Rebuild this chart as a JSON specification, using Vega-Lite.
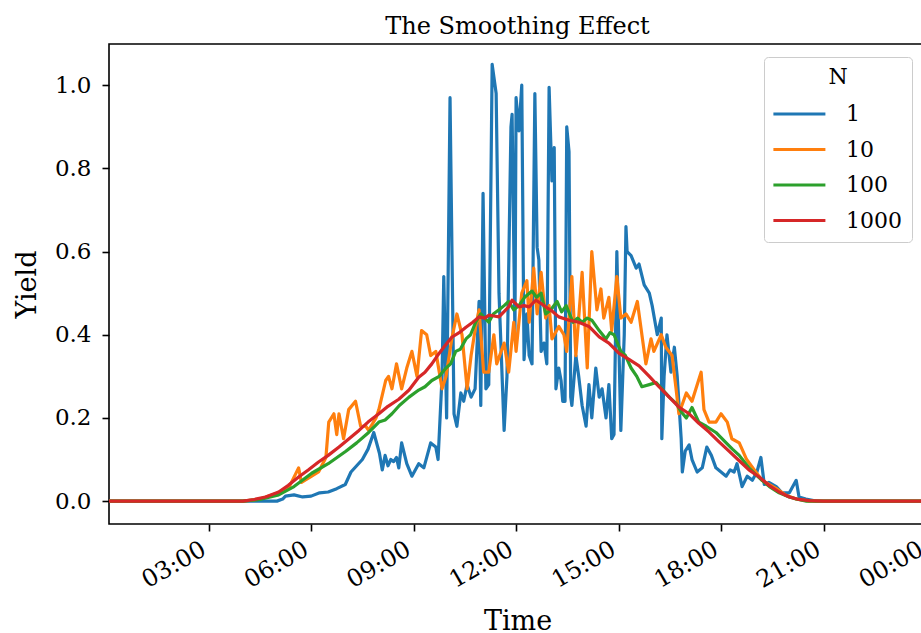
{
  "$schema": "https://vega.github.io/schema/vega-lite/v6.json",
  "width": 817,
  "height": 480,
  "autosize": {"type": "none"},
  "padding": {"left": 109, "top": 44, "right": 0, "bottom": 109},
  "background": "white",
  "title": {"text": "The Smoothing Effect", "font": "DejaVu Serif", "fontSize": 24, "fontWeight": "normal", "color": "black", "anchor": "middle", "baseline": "bottom", "offset": 8, "dy": 27},
  "data": {
    "format": {"parse": {"t": "date:'%H:%M'"}},
    "values": [
      {"t":"00:05","N":"1","v":0},{"t":"05:00","N":"1","v":0},{"t":"05:10","N":"1","v":0.005},{"t":"05:15","N":"1","v":0.012},{"t":"05:30","N":"1","v":0.015},{"t":"05:45","N":"1","v":0.01},{"t":"06:00","N":"1","v":0.012},{"t":"06:15","N":"1","v":0.02},{"t":"06:30","N":"1","v":0.022},{"t":"06:45","N":"1","v":0.03},{"t":"07:00","N":"1","v":0.04},{"t":"07:10","N":"1","v":0.07},{"t":"07:20","N":"1","v":0.085},{"t":"07:30","N":"1","v":0.1},{"t":"07:40","N":"1","v":0.125},{"t":"07:50","N":"1","v":0.165},{"t":"08:00","N":"1","v":0.115},{"t":"08:05","N":"1","v":0.075},{"t":"08:10","N":"1","v":0.11},{"t":"08:15","N":"1","v":0.085},{"t":"08:20","N":"1","v":0.1},{"t":"08:25","N":"1","v":0.095},{"t":"08:30","N":"1","v":0.105},
      {"t":"08:34","N":"1","v":0.08},{"t":"08:39","N":"1","v":0.14},{"t":"08:48","N":"1","v":0.09},{"t":"08:57","N":"1","v":0.06},{"t":"09:09","N":"1","v":0.09},{"t":"09:18","N":"1","v":0.08},{"t":"09:30","N":"1","v":0.14},{"t":"09:39","N":"1","v":0.13},{"t":"09:43","N":"1","v":0.1},{"t":"09:50","N":"1","v":0.3},{"t":"09:53","N":"1","v":0.54},{"t":"09:58","N":"1","v":0.2},{"t":"10:04","N":"1","v":0.97},{"t":"10:11","N":"1","v":0.21},{"t":"10:16","N":"1","v":0.18},{"t":"10:23","N":"1","v":0.26},{"t":"10:28","N":"1","v":0.24},{"t":"10:34","N":"1","v":0.28},{"t":"10:41","N":"1","v":0.25},{"t":"10:48","N":"1","v":0.27},{"t":"10:55","N":"1","v":0.48},{"t":"10:58","N":"1","v":0.23},{"t":"11:02","N":"1","v":0.74},{"t":"11:07","N":"1","v":0.27},{"t":"11:12","N":"1","v":0.28},{"t":"11:18","N":"1","v":1.05},{"t":"11:25","N":"1","v":0.98},{"t":"11:30","N":"1","v":0.5},{"t":"11:39","N":"1","v":0.17},{"t":"11:44","N":"1","v":0.3},{"t":"11:51","N":"1","v":0.9},{"t":"11:53","N":"1","v":0.93},{"t":"11:58","N":"1","v":0.4},{"t":"12:00","N":"1","v":0.97},{"t":"12:05","N":"1","v":0.89},{"t":"12:10","N":"1","v":1.0},{"t":"12:14","N":"1","v":0.34},{"t":"12:19","N":"1","v":0.45},{"t":"12:23","N":"1","v":0.35},{"t":"12:28","N":"1","v":0.33},{"t":"12:33","N":"1","v":0.98},{"t":"12:37","N":"1","v":0.61},{"t":"12:40","N":"1","v":0.58},{"t":"12:44","N":"1","v":0.36},{"t":"12:49","N":"1","v":0.38},{"t":"12:54","N":"1","v":0.33},{"t":"12:58","N":"1","v":0.995},{"t":"13:03","N":"1","v":0.77},{"t":"13:07","N":"1","v":0.85},{"t":"13:10","N":"1","v":0.27},{"t":"13:15","N":"1","v":0.32},{"t":"13:19","N":"1","v":0.29},{"t":"13:22","N":"1","v":0.24},{"t":"13:26","N":"1","v":0.24},{"t":"13:29","N":"1","v":0.9},{"t":"13:33","N":"1","v":0.84},{"t":"13:36","N":"1","v":0.25},{"t":"13:38","N":"1","v":0.23},{"t":"13:45","N":"1","v":0.35},{"t":"13:50","N":"1","v":0.3},{"t":"13:56","N":"1","v":0.23},{"t":"14:03","N":"1","v":0.18},{"t":"14:08","N":"1","v":0.28},{"t":"14:13","N":"1","v":0.2},{"t":"14:20","N":"1","v":0.32},{"t":"14:26","N":"1","v":0.25},{"t":"14:31","N":"1","v":0.27},{"t":"14:38","N":"1","v":0.2},{"t":"14:43","N":"1","v":0.28},{"t":"14:48","N":"1","v":0.15},{"t":"14:52","N":"1","v":0.16},{"t":"14:57","N":"1","v":0.6},{"t":"15:01","N":"1","v":0.35},{"t":"15:04","N":"1","v":0.17},{"t":"15:10","N":"1","v":0.4},{"t":"15:13","N":"1","v":0.66},{"t":"15:15","N":"1","v":0.6},{"t":"15:22","N":"1","v":0.59},{"t":"15:31","N":"1","v":0.56},{"t":"15:36","N":"1","v":0.57},{"t":"15:45","N":"1","v":0.52},{"t":"15:54","N":"1","v":0.5},{"t":"15:59","N":"1","v":0.47},{"t":"16:08","N":"1","v":0.4},{"t":"16:15","N":"1","v":0.44},{"t":"16:16","N":"1","v":0.15},{"t":"16:20","N":"1","v":0.3},{"t":"16:25","N":"1","v":0.4},{"t":"16:32","N":"1","v":0.31},{"t":"16:38","N":"1","v":0.37},{"t":"16:43","N":"1","v":0.3},{"t":"16:50","N":"1","v":0.15},{"t":"16:52","N":"1","v":0.07},{"t":"16:57","N":"1","v":0.12},{"t":"17:04","N":"1","v":0.135},{"t":"17:09","N":"1","v":0.1},{"t":"17:18","N":"1","v":0.07},{"t":"17:27","N":"1","v":0.08},{"t":"17:35","N":"1","v":0.13},{"t":"17:43","N":"1","v":0.11},{"t":"17:51","N":"1","v":0.08},{"t":"18:00","N":"1","v":0.07},{"t":"18:09","N":"1","v":0.06},{"t":"18:16","N":"1","v":0.075},{"t":"18:23","N":"1","v":0.07},{"t":"18:28","N":"1","v":0.09},{"t":"18:37","N":"1","v":0.035},{"t":"18:46","N":"1","v":0.06},{"t":"18:55","N":"1","v":0.05},{"t":"19:03","N":"1","v":0.07},{"t":"19:10","N":"1","v":0.105},{"t":"19:16","N":"1","v":0.04},{"t":"19:24","N":"1","v":0.045},{"t":"19:37","N":"1","v":0.035},{"t":"19:47","N":"1","v":0.02},{"t":"20:00","N":"1","v":0.02},{"t":"20:12","N":"1","v":0.05},{"t":"20:17","N":"1","v":0.01},{"t":"20:29","N":"1","v":0.005},{"t":"20:47","N":"1","v":0},{"t":"23:55","N":"1","v":0},

      {"t":"00:05","N":"10","v":0},{"t":"04:00","N":"10","v":0},{"t":"04:30","N":"10","v":0.005},{"t":"05:03","N":"10","v":0.02},{"t":"05:20","N":"10","v":0.03},{"t":"05:38","N":"10","v":0.08},{"t":"05:43","N":"10","v":0.045},{"t":"06:01","N":"10","v":0.06},{"t":"06:13","N":"10","v":0.07},{"t":"06:26","N":"10","v":0.105},{"t":"06:31","N":"10","v":0.19},{"t":"06:40","N":"10","v":0.21},{"t":"06:45","N":"10","v":0.16},{"t":"06:49","N":"10","v":0.21},{"t":"06:57","N":"10","v":0.15},{"t":"07:06","N":"10","v":0.22},{"t":"07:18","N":"10","v":0.24},{"t":"07:27","N":"10","v":0.18},{"t":"07:36","N":"10","v":0.18},{"t":"07:41","N":"10","v":0.17},{"t":"07:54","N":"10","v":0.2},{"t":"07:59","N":"10","v":0.22},{"t":"08:11","N":"10","v":0.29},{"t":"08:16","N":"10","v":0.3},{"t":"08:22","N":"10","v":0.27},{"t":"08:30","N":"10","v":0.33},{"t":"08:39","N":"10","v":0.27},{"t":"08:48","N":"10","v":0.32},{"t":"08:57","N":"10","v":0.36},{"t":"09:06","N":"10","v":0.3},{"t":"09:14","N":"10","v":0.41},{"t":"09:23","N":"10","v":0.4},{"t":"09:30","N":"10","v":0.35},{"t":"09:39","N":"10","v":0.36},{"t":"09:50","N":"10","v":0.27},{"t":"09:57","N":"10","v":0.3},{"t":"10:07","N":"10","v":0.39},{"t":"10:16","N":"10","v":0.45},{"t":"10:25","N":"10","v":0.4},{"t":"10:34","N":"10","v":0.27},{"t":"10:41","N":"10","v":0.35},{"t":"10:49","N":"10","v":0.42},{"t":"10:55","N":"10","v":0.46},{"t":"11:03","N":"10","v":0.31},{"t":"11:12","N":"10","v":0.31},{"t":"11:21","N":"10","v":0.4},{"t":"11:26","N":"10","v":0.33},{"t":"11:39","N":"10","v":0.38},{"t":"11:47","N":"10","v":0.31},{"t":"11:56","N":"10","v":0.43},{"t":"12:00","N":"10","v":0.36},{"t":"12:10","N":"10","v":0.5},{"t":"12:19","N":"10","v":0.53},{"t":"12:23","N":"10","v":0.43},{"t":"12:31","N":"10","v":0.56},{"t":"12:37","N":"10","v":0.45},{"t":"12:44","N":"10","v":0.55},{"t":"12:52","N":"10","v":0.44},{"t":"12:58","N":"10","v":0.47},{"t":"13:03","N":"10","v":0.39},{"t":"13:15","N":"10","v":0.42},{"t":"13:24","N":"10","v":0.4},{"t":"13:29","N":"10","v":0.36},{"t":"13:38","N":"10","v":0.54},{"t":"13:45","N":"10","v":0.35},{"t":"13:56","N":"10","v":0.55},{"t":"14:05","N":"10","v":0.32},{"t":"14:13","N":"10","v":0.6},{"t":"14:22","N":"10","v":0.46},{"t":"14:29","N":"10","v":0.51},{"t":"14:34","N":"10","v":0.44},{"t":"14:43","N":"10","v":0.49},{"t":"14:48","N":"10","v":0.41},{"t":"14:57","N":"10","v":0.54},{"t":"15:04","N":"10","v":0.44},{"t":"15:13","N":"10","v":0.45},{"t":"15:22","N":"10","v":0.43},{"t":"15:33","N":"10","v":0.48},{"t":"15:48","N":"10","v":0.33},{"t":"15:57","N":"10","v":0.39},{"t":"16:02","N":"10","v":0.36},{"t":"16:15","N":"10","v":0.4},{"t":"16:23","N":"10","v":0.37},{"t":"16:34","N":"10","v":0.35},{"t":"16:41","N":"10","v":0.27},{"t":"16:46","N":"10","v":0.21},{"t":"16:59","N":"10","v":0.26},{"t":"17:09","N":"10","v":0.24},{"t":"17:25","N":"10","v":0.31},{"t":"17:30","N":"10","v":0.22},{"t":"17:39","N":"10","v":0.19},{"t":"17:51","N":"10","v":0.19},{"t":"18:00","N":"10","v":0.21},{"t":"18:11","N":"10","v":0.19},{"t":"18:19","N":"10","v":0.15},{"t":"18:32","N":"10","v":0.14},{"t":"18:45","N":"10","v":0.1},{"t":"19:01","N":"10","v":0.07},{"t":"19:12","N":"10","v":0.05},{"t":"19:37","N":"10","v":0.03},{"t":"19:53","N":"10","v":0.015},{"t":"20:12","N":"10","v":0.005},{"t":"20:35","N":"10","v":0},{"t":"23:55","N":"10","v":0},

      {"t":"00:05","N":"100","v":0},{"t":"04:00","N":"100","v":0},{"t":"04:30","N":"100","v":0.004},{"t":"05:03","N":"100","v":0.015},{"t":"05:30","N":"100","v":0.035},{"t":"06:01","N":"100","v":0.067},{"t":"06:30","N":"100","v":0.09},{"t":"07:01","N":"100","v":0.12},{"t":"07:20","N":"100","v":0.14},{"t":"07:41","N":"100","v":0.165},{"t":"07:59","N":"100","v":0.19},{"t":"08:10","N":"100","v":0.195},{"t":"08:22","N":"100","v":0.21},{"t":"08:35","N":"100","v":0.23},{"t":"08:52","N":"100","v":0.25},{"t":"09:09","N":"100","v":0.267},{"t":"09:20","N":"100","v":0.275},{"t":"09:32","N":"100","v":0.29},{"t":"09:45","N":"100","v":0.3},{"t":"09:57","N":"100","v":0.32},{"t":"10:05","N":"100","v":0.33},{"t":"10:14","N":"100","v":0.36},{"t":"10:22","N":"100","v":0.365},{"t":"10:32","N":"100","v":0.39},{"t":"10:40","N":"100","v":0.4},{"t":"10:49","N":"100","v":0.43},{"t":"10:58","N":"100","v":0.45},{"t":"11:05","N":"100","v":0.44},{"t":"11:12","N":"100","v":0.43},{"t":"11:20","N":"100","v":0.45},{"t":"11:30","N":"100","v":0.46},{"t":"11:39","N":"100","v":0.47},{"t":"11:47","N":"100","v":0.48},{"t":"11:56","N":"100","v":0.46},{"t":"12:05","N":"100","v":0.47},{"t":"12:15","N":"100","v":0.49},{"t":"12:28","N":"100","v":0.505},{"t":"12:36","N":"100","v":0.49},{"t":"12:44","N":"100","v":0.5},{"t":"12:52","N":"100","v":0.45},{"t":"13:01","N":"100","v":0.46},{"t":"13:12","N":"100","v":0.48},{"t":"13:20","N":"100","v":0.455},{"t":"13:28","N":"100","v":0.47},{"t":"13:40","N":"100","v":0.43},{"t":"13:48","N":"100","v":0.44},{"t":"13:56","N":"100","v":0.43},{"t":"14:05","N":"100","v":0.44},{"t":"14:13","N":"100","v":0.435},{"t":"14:26","N":"100","v":0.41},{"t":"14:38","N":"100","v":0.39},{"t":"14:45","N":"100","v":0.405},{"t":"14:52","N":"100","v":0.4},{"t":"15:04","N":"100","v":0.36},{"t":"15:12","N":"100","v":0.35},{"t":"15:22","N":"100","v":0.32},{"t":"15:32","N":"100","v":0.3},{"t":"15:41","N":"100","v":0.275},{"t":"15:54","N":"100","v":0.28},{"t":"16:06","N":"100","v":0.285},{"t":"16:16","N":"100","v":0.27},{"t":"16:29","N":"100","v":0.25},{"t":"16:41","N":"100","v":0.235},{"t":"16:50","N":"100","v":0.215},{"t":"16:59","N":"100","v":0.2},{"t":"17:09","N":"100","v":0.225},{"t":"17:21","N":"100","v":0.19},{"t":"17:34","N":"100","v":0.18},{"t":"17:51","N":"100","v":0.165},{"t":"18:09","N":"100","v":0.14},{"t":"18:20","N":"100","v":0.125},{"t":"18:32","N":"100","v":0.11},{"t":"18:49","N":"100","v":0.08},{"t":"19:00","N":"100","v":0.065},{"t":"19:12","N":"100","v":0.05},{"t":"19:25","N":"100","v":0.035},{"t":"19:42","N":"100","v":0.02},{"t":"20:00","N":"100","v":0.01},{"t":"20:12","N":"100","v":0.005},{"t":"20:30","N":"100","v":0},{"t":"23:55","N":"100","v":0},

      {"t":"00:05","N":"1000","v":0},{"t":"04:00","N":"1000","v":0},{"t":"04:20","N":"1000","v":0.004},{"t":"04:40","N":"1000","v":0.01},{"t":"05:03","N":"1000","v":0.022},{"t":"05:20","N":"1000","v":0.038},{"t":"05:38","N":"1000","v":0.058},{"t":"05:55","N":"1000","v":0.075},{"t":"06:13","N":"1000","v":0.094},{"t":"06:30","N":"1000","v":0.11},{"t":"06:49","N":"1000","v":0.13},{"t":"07:05","N":"1000","v":0.148},{"t":"07:24","N":"1000","v":0.17},{"t":"07:40","N":"1000","v":0.19},{"t":"07:59","N":"1000","v":0.21},{"t":"08:15","N":"1000","v":0.228},{"t":"08:34","N":"1000","v":0.245},{"t":"08:52","N":"1000","v":0.267},{"t":"09:09","N":"1000","v":0.298},{"t":"09:20","N":"1000","v":0.31},{"t":"09:32","N":"1000","v":0.33},{"t":"09:42","N":"1000","v":0.35},{"t":"09:53","N":"1000","v":0.37},{"t":"10:07","N":"1000","v":0.394},{"t":"10:20","N":"1000","v":0.405},{"t":"10:32","N":"1000","v":0.418},{"t":"10:44","N":"1000","v":0.43},{"t":"10:55","N":"1000","v":0.443},{"t":"11:05","N":"1000","v":0.44},{"t":"11:12","N":"1000","v":0.447},{"t":"11:21","N":"1000","v":0.445},{"t":"11:30","N":"1000","v":0.443},{"t":"11:47","N":"1000","v":0.467},{"t":"11:53","N":"1000","v":0.483},{"t":"12:05","N":"1000","v":0.467},{"t":"12:14","N":"1000","v":0.47},{"t":"12:23","N":"1000","v":0.467},{"t":"12:35","N":"1000","v":0.483},{"t":"12:44","N":"1000","v":0.475},{"t":"12:52","N":"1000","v":0.467},{"t":"13:03","N":"1000","v":0.457},{"t":"13:15","N":"1000","v":0.443},{"t":"13:33","N":"1000","v":0.435},{"t":"13:50","N":"1000","v":0.43},{"t":"14:08","N":"1000","v":0.42},{"t":"14:26","N":"1000","v":0.395},{"t":"14:43","N":"1000","v":0.38},{"t":"15:01","N":"1000","v":0.355},{"t":"15:19","N":"1000","v":0.34},{"t":"15:36","N":"1000","v":0.325},{"t":"15:54","N":"1000","v":0.3},{"t":"16:11","N":"1000","v":0.275},{"t":"16:29","N":"1000","v":0.25},{"t":"16:46","N":"1000","v":0.226},{"t":"17:04","N":"1000","v":0.21},{"t":"17:21","N":"1000","v":0.187},{"t":"17:39","N":"1000","v":0.166},{"t":"17:57","N":"1000","v":0.142},{"t":"18:14","N":"1000","v":0.12},{"t":"18:32","N":"1000","v":0.097},{"t":"18:49","N":"1000","v":0.075},{"t":"19:07","N":"1000","v":0.058},{"t":"19:24","N":"1000","v":0.038},{"t":"19:42","N":"1000","v":0.022},{"t":"20:00","N":"1000","v":0.01},{"t":"20:17","N":"1000","v":0.004},{"t":"20:35","N":"1000","v":0.001},{"t":"21:00","N":"1000","v":0},{"t":"23:55","N":"1000","v":0}
    ]
  },
  "mark": {"type": "line", "strokeWidth": 3.2, "strokeJoin": "round", "clip": true},
  "encoding": {
    "x": {
      "field": "t", "type": "temporal",
      "scale": {"domain": [{"year": 1900, "month": 1, "date": 1, "hours": 0, "minutes": 5}, {"year": 1900, "month": 1, "date": 2, "hours": 0}], "nice": false},
      "axis": {
        "title": "Time",
        "values": [{"year": 1900, "month": 1, "date": 1, "hours": 3}, {"year": 1900, "month": 1, "date": 1, "hours": 6}, {"year": 1900, "month": 1, "date": 1, "hours": 9}, {"year": 1900, "month": 1, "date": 1, "hours": 12}, {"year": 1900, "month": 1, "date": 1, "hours": 15}, {"year": 1900, "month": 1, "date": 1, "hours": 18}, {"year": 1900, "month": 1, "date": 1, "hours": 21}, {"year": 1900, "month": 1, "date": 2, "hours": 0}],
        "format": "%H:%M",
        "labelAngle": -30, "labelAlign": "right", "labelBaseline": "top", "labelPadding": 6, "labelOffset": -11, "labelFontSize": 24,
        "labelFlush": false, "labelOverlap": false,
        "titleY": 105, "titleBaseline": "alphabetic", "titleFontSize": 27
      }
    },
    "y": {
      "field": "v", "type": "quantitative",
      "scale": {"domain": [-0.055, 1.099], "nice": false, "zero": false},
      "axis": {"title": "Yield", "values": [0, 0.2, 0.4, 0.6, 0.8, 1.0], "format": ".1f", "labelPadding": 11, "labelFontSize": 23, "titleX": -74, "titleBaseline": "alphabetic", "titleFontSize": 27}
    },
    "color": {
      "field": "N", "type": "nominal",
      "scale": {"domain": ["1", "10", "100", "1000"], "range": ["#1f77b4", "#ff7f0e", "#2ca02c", "#d62728"]},
      "legend": {
        "title": "N", "orient": "none", "legendX": 655, "legendY": 13,
        "titleAnchor": "middle", "titleFontSize": 22, "titleFontWeight": "normal", "titleFont": "DejaVu Serif", "titleColor": "black", "titlePadding": 10,
        "labelFont": "DejaVu Serif", "labelFontSize": 22, "labelColor": "black", "labelOffset": 42,
        "symbolType": "M-1.2,0H2.8", "symbolSize": 676, "symbolStrokeWidth": 3.2,
        "rowPadding": 9.5, "padding": 10,
        "fillColor": "white", "strokeColor": "#cccccc", "cornerRadius": 4
      }
    }
  },
  "config": {
    "view": {"stroke": "black", "strokeWidth": 1.6},
    "axis": {
      "grid": false, "domain": false,
      "tickColor": "black", "tickWidth": 1.6, "tickSize": 7,
      "labelFont": "DejaVu Serif", "labelFontSize": 22, "labelColor": "black",
      "titleFont": "DejaVu Serif", "titleFontWeight": "normal", "titleColor": "black"
    }
  }
}
